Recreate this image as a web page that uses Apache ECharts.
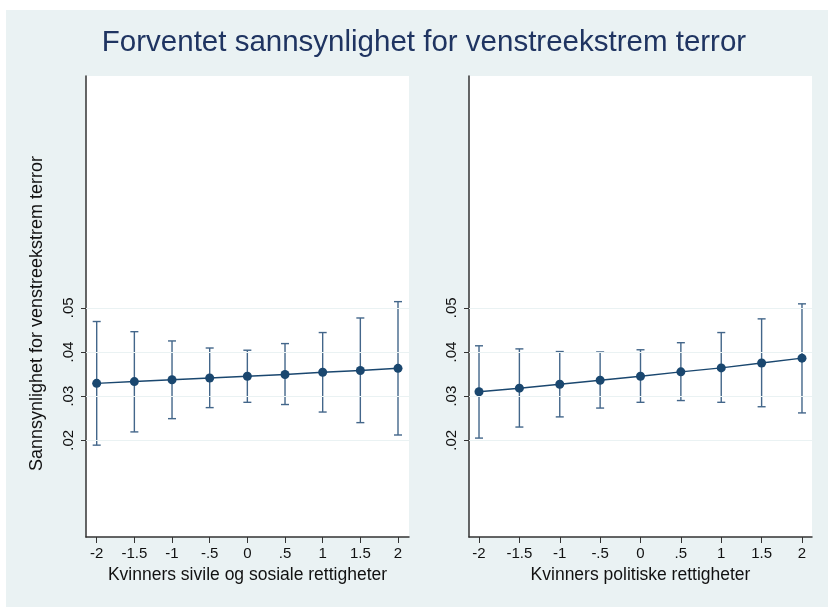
<!DOCTYPE html>
<html>
<head>
<meta charset="utf-8">
<script src="https://cdn.jsdelivr.net/npm/echarts@6/dist/echarts.min.js"></script>
<style>
html,body{margin:0;padding:0;background:#fff;}
#c{width:828px;height:607px;}
</style>
</head>
<body>
<div id="c"></div>
<script>
// ---- data ----
const titleText = 'Forventet sannsynlighet for venstreekstrem terror';
const yTitle = 'Sannsynlighet for venstreekstrem terror';
const xTitleLeft = 'Kvinners sivile og sosiale rettigheter';
const xTitleRight = 'Kvinners politiske rettigheter';
const xVals = [-2, -1.5, -1, -0.5, 0, 0.5, 1, 1.5, 2];
const xTickLabels = ['-2', '-1.5', '-1', '-.5', '0', '.5', '1', '1.5', '2'];
const yTicks = [0.02, 0.03, 0.04, 0.05];
const yTickLabels = ['.02', '.03', '.04', '.05'];

const leftEst   = [0.0329, 0.0333, 0.0337, 0.0341, 0.0345, 0.0349, 0.0354, 0.0358, 0.0363];
const leftUpper = [0.0469, 0.0446, 0.0425, 0.0409, 0.0404, 0.0419, 0.0444, 0.0477, 0.0514];
const leftLower = [0.0189, 0.0219, 0.0249, 0.0274, 0.0286, 0.0281, 0.0264, 0.0240, 0.0212];

const rightEst   = [0.0310, 0.0318, 0.0327, 0.0336, 0.0345, 0.0355, 0.0364, 0.0375, 0.0386];
const rightUpper = [0.0414, 0.0407, 0.0401, 0.0400, 0.0405, 0.0421, 0.0444, 0.0475, 0.0509];
const rightLower = [0.0205, 0.0230, 0.0253, 0.0273, 0.0286, 0.0290, 0.0286, 0.0276, 0.0262];

// ---- styles ----
const navy = '#1a476f';
const barColor = '#43668a';
const bg = '#eaf2f3';
const font = 'Liberation Sans, Arial, Helvetica, sans-serif';

const chart = echarts.init(document.getElementById('c'), null, {renderer: 'canvas'});

function xAxisDef(gridIndex, min, max, name) {
  return {
    type: 'value', gridIndex, min, max,
    name, nameLocation: 'middle', nameGap: 29,
    nameTextStyle: {fontFamily: font, fontSize: 17.5, color: '#111'},
    axisLine: {show: true, onZero: false, lineStyle: {color: '#333', width: 1.5}},
    axisTick: {show: true, length: 6, customValues: xVals, lineStyle: {color: '#333', width: 1}},
    axisLabel: {show: true, customValues: xVals, margin: 9, fontFamily: font, fontSize: 15, color: '#111',
      formatter: v => { const i = xVals.indexOf(v); return i >= 0 ? xTickLabels[i] : ''; }},
    splitLine: {show: false}
  };
}
function yAxisDef(gridIndex, name) {
  return {
    type: 'value', gridIndex, min: -0.0019, max: 0.1025,
    name: name || '', nameLocation: 'middle', nameGap: 40, nameRotate: 90,
    nameTextStyle: {fontFamily: font, fontSize: 18, color: '#111', padding: [0, 14, 0, 0]},
    axisLine: {show: true, onZero: false, lineStyle: {color: '#333', width: 1.5}},
    axisTick: {show: true, length: 5, customValues: yTicks, lineStyle: {color: '#333', width: 1}},
    axisLabel: {show: true, customValues: yTicks, rotate: 90, margin: 10, fontFamily: font, fontSize: 15, color: '#111',
      formatter: v => { const i = yTicks.findIndex(t => Math.abs(t - v) < 1e-9); return i >= 0 ? yTickLabels[i] : ''; }},
    splitLine: {show: false}
  };
}

function errSeries(idx, lower, upper) {
  return {
    type: 'custom', xAxisIndex: idx, yAxisIndex: idx, z: 2,
    data: xVals.map((x, i) => [x, lower[i], upper[i]]),
    renderItem: (params, api) => {
      const lo = api.coord([api.value(0), api.value(1)]);
      const hi = api.coord([api.value(0), api.value(2)]);
      const hw = 4;
      const st = {stroke: barColor, lineWidth: 1.4};
      return {type: 'group', children: [
        {type: 'line', shape: {x1: lo[0], y1: lo[1], x2: hi[0], y2: hi[1]}, style: st},
        {type: 'line', shape: {x1: lo[0]-hw, y1: lo[1], x2: lo[0]+hw, y2: lo[1]}, style: st},
        {type: 'line', shape: {x1: hi[0]-hw, y1: hi[1], x2: hi[0]+hw, y2: hi[1]}, style: st}
      ]};
    },
    markLine: {
      silent: true, symbol: 'none', label: {show: false},
      lineStyle: {color: bg, width: 1, type: 'solid'},
      data: yTicks.map(t => ({yAxis: t}))
    }
  };
}
function lineSeries(idx, est) {
  return {
    type: 'line', xAxisIndex: idx, yAxisIndex: idx, z: 3,
    data: xVals.map((x, i) => [x, est[i]]),
    symbol: 'circle', symbolSize: 9,
    itemStyle: {color: navy},
    lineStyle: {color: navy, width: 1.4},
    animation: false
  };
}

chart.setOption({
  animation: false,
  backgroundColor: '#fff',
  title: {
    text: titleText, left: 419, top: 23, textAlign: 'center',
    textStyle: {fontFamily: font, fontSize: 29.5, fontWeight: 'normal', color: '#1f3461'}
  },
  graphic: [{
    type: 'rect', z: -10, silent: true,
    shape: {x: 6, y: 10, width: 822, height: 597},
    style: {fill: bg}
  }],
  grid: [
    {left: 86, top: 76, width: 323, height: 461, show: true, backgroundColor: '#fff', borderWidth: 0},
    {left: 469, top: 76, width: 343, height: 461, show: true, backgroundColor: '#fff', borderWidth: 0}
  ],
  xAxis: [xAxisDef(0, -2.142, 2.146, xTitleLeft), xAxisDef(1, -2.124, 2.124, xTitleRight)],
  yAxis: [yAxisDef(0, yTitle), yAxisDef(1, '')],
  series: [
    errSeries(0, leftLower, leftUpper), lineSeries(0, leftEst),
    errSeries(1, rightLower, rightUpper), lineSeries(1, rightEst)
  ]
});
</script>
</body>
</html>
